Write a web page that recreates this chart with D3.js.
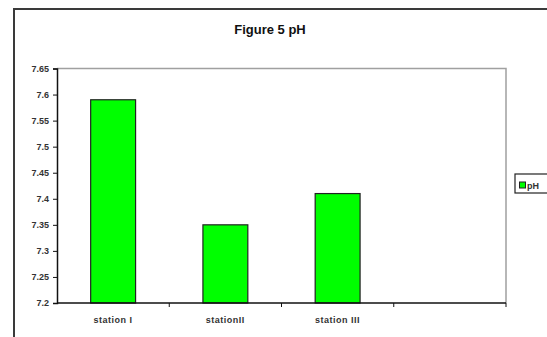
<!DOCTYPE html>
<html>
<head>
<meta charset="utf-8">
<script src="https://cdn.jsdelivr.net/npm/d3@7"></script>
<style>
  body { margin: 0; background: #fff; }
  svg { display: block; font-family: "Liberation Sans", Arial, sans-serif; }
</style>
</head>
<body>
<div id="chart"></div>
<script>
var svgWidth = 547;
var svgHeight = 337;

// data
var stations = ["station I", "stationII", "station III", ""];
var phValues = [7.59, 7.35, 7.41, null];
var yTicks = [7.2, 7.25, 7.3, 7.35, 7.4, 7.45, 7.5, 7.55, 7.6, 7.65];
var seriesName = "pH";

var plot = { left: 57, top: 68.5, right: 506, bottom: 303 };

var svg = d3.select("#chart")
  .append("svg")
  .attr("width", svgWidth)
  .attr("height", svgHeight);

// outer chart border (runs past the window on right/bottom)
svg.append("rect")
  .attr("x", 14)
  .attr("y", 9)
  .attr("width", 600)
  .attr("height", 400)
  .attr("fill", "#fff")
  .attr("stroke", "#3a3a3a")
  .attr("stroke-width", 2);

// title
svg.append("text")
  .attr("x", 270)
  .attr("y", 34)
  .attr("text-anchor", "middle")
  .attr("font-size", "13px")
  .attr("font-weight", "bold")
  .attr("fill", "#111")
  .text("Figure 5 pH");

var xScale = d3.scaleBand()
  .domain(d3.range(stations.length))
  .range([plot.left, plot.right])
  .paddingInner(0.6)
  .paddingOuter(0.3);

var step = (plot.right - plot.left) / stations.length;

var yScale = d3.scaleLinear()
  .domain([7.2, 7.65])
  .range([plot.bottom, plot.top]);

// plot area frame: gray top and right
svg.append("path")
  .attr("d", `M${plot.left},${plot.top}H${plot.right}V${plot.bottom}`)
  .attr("fill", "none")
  .attr("stroke", "#a0a0a0")
  .attr("stroke-width", 1.5);

// bars
svg.selectAll(".bar")
  .data(phValues.map((v, i) => ({ v: v, i: i })).filter(d => d.v != null))
  .enter()
  .append("rect")
  .attr("class", "bar")
  .attr("x", d => xScale(d.i))
  .attr("y", d => yScale(d.v))
  .attr("width", xScale.bandwidth())
  .attr("height", d => plot.bottom - yScale(d.v))
  .attr("fill", "#00ff00")
  .attr("stroke", "#222")
  .attr("stroke-width", 1.2);

// y axis
var leftAxis = d3.axisLeft(yScale)
  .tickValues(yTicks)
  .tickSize(4)
  .tickPadding(4)
  .tickFormat(d => String(+d.toFixed(2)));

var yAxis = svg.append("g")
  .attr("transform", `translate(${plot.left},0)`)
  .call(leftAxis);
yAxis.select(".domain").attr("stroke", "#111").attr("stroke-width", 1.5);
yAxis.selectAll(".tick line").attr("stroke", "#111");
yAxis.selectAll("text")
  .attr("font-size", "9px")
  .attr("font-weight", "bold")
  .attr("fill", "#333")
  .attr("font-family", "'Liberation Sans', Arial, sans-serif");

// x axis: ticks at category boundaries
var xAxis = svg.append("g");
xAxis.append("line")
  .attr("x1", plot.left).attr("x2", plot.right)
  .attr("y1", plot.bottom).attr("y2", plot.bottom)
  .attr("stroke", "#111")
  .attr("stroke-width", 1.5);
xAxis.selectAll(".xtick")
  .data(d3.range(1, stations.length + 1))
  .enter()
  .append("line")
  .attr("x1", i => plot.left + i * step)
  .attr("x2", i => plot.left + i * step)
  .attr("y1", plot.bottom)
  .attr("y2", plot.bottom + 4)
  .attr("stroke", "#111");
xAxis.selectAll(".xlabel")
  .data(stations)
  .enter()
  .append("text")
  .attr("x", (d, i) => xScale(i) + xScale.bandwidth() / 2)
  .attr("y", 323)
  .attr("text-anchor", "middle")
  .attr("font-size", "9px")
  .attr("font-weight", "bold")
  .attr("letter-spacing", "0.5px")
  .attr("fill", "#333")
  .text(d => d);

// legend
var legend = svg.append("g");
legend.append("rect")
  .attr("x", 515)
  .attr("y", 174)
  .attr("width", 40)
  .attr("height", 19)
  .attr("fill", "#fff")
  .attr("stroke", "#222")
  .attr("stroke-width", 1.2);
legend.append("rect")
  .attr("x", 519.5)
  .attr("y", 182)
  .attr("width", 6)
  .attr("height", 6)
  .attr("fill", "#00ff00")
  .attr("stroke", "#222")
  .attr("stroke-width", 1);
legend.append("text")
  .attr("x", 527)
  .attr("y", 188.5)
  .attr("font-size", "9px")
  .attr("font-weight", "bold")
  .attr("fill", "#333")
  .text(seriesName);
</script>
</body>
</html>
